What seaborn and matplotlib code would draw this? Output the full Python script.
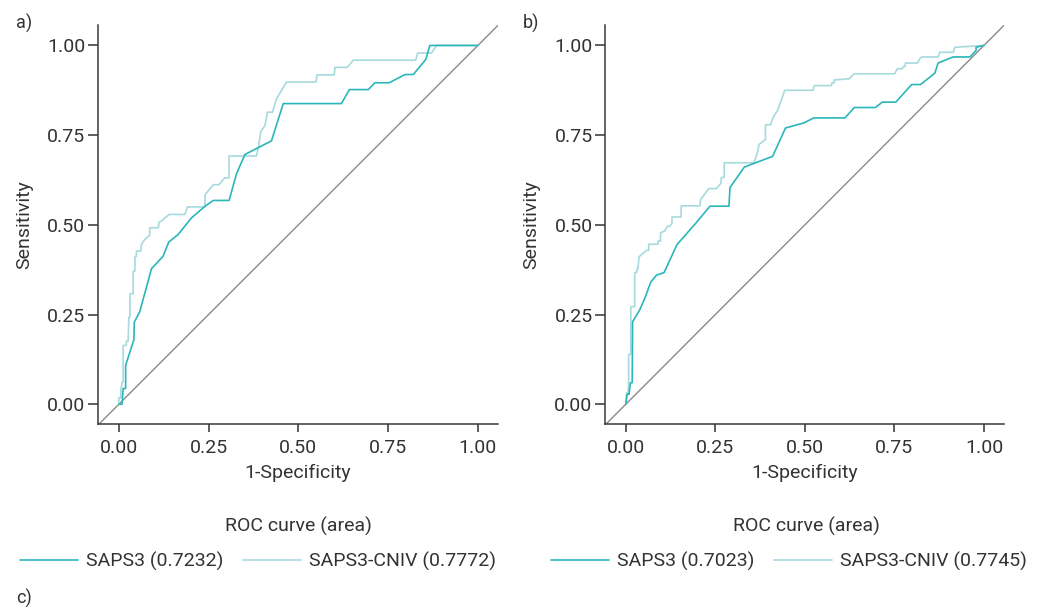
import numpy as np
import pandas as pd
import matplotlib
matplotlib.use("Agg")
import matplotlib.pyplot as plt
from matplotlib.lines import Line2D
import seaborn as sns

# ---------------- data ----------------
# Panel a
a_saps3_fpr = [0.0, 0.009, 0.012, 0.019, 0.019, 0.042, 0.043, 0.058, 0.091, 0.123, 0.139,
               0.165, 0.202, 0.240, 0.263, 0.307, 0.328, 0.351, 0.425, 0.458, 0.620,
               0.642, 0.695, 0.713, 0.753, 0.797, 0.820, 0.855, 0.866, 1.0]
a_saps3_tpr = [0.0, 0.0, 0.044, 0.044, 0.109, 0.180, 0.229, 0.257, 0.378, 0.412, 0.452,
               0.473, 0.519, 0.552, 0.568, 0.568, 0.643, 0.696, 0.734, 0.838, 0.838,
               0.877, 0.877, 0.896, 0.896, 0.919, 0.919, 0.961, 1.0, 1.0]
a_cniv_fpr = [0.0, 0.0, 0.0056, 0.0056, 0.0093, 0.012, 0.012, 0.021, 0.021, 0.026, 0.028,
              0.031, 0.031, 0.040, 0.040, 0.045, 0.045, 0.049, 0.049, 0.061, 0.063,
              0.072, 0.086, 0.086, 0.110, 0.112, 0.119, 0.140, 0.184, 0.191, 0.240,
              0.240, 0.263, 0.279, 0.295, 0.307, 0.307, 0.383, 0.388, 0.395, 0.407,
              0.414, 0.428, 0.439, 0.467, 0.549, 0.552, 0.600, 0.602, 0.636, 0.653,
              0.827, 0.832, 0.871, 0.885, 1.0]
a_cniv_tpr = [0.0, 0.018, 0.018, 0.041, 0.062, 0.062, 0.164, 0.164, 0.176, 0.176, 0.243,
              0.243, 0.308, 0.308, 0.371, 0.371, 0.412, 0.412, 0.427, 0.427, 0.446,
              0.459, 0.471, 0.492, 0.492, 0.508, 0.511, 0.529, 0.529, 0.550, 0.550,
              0.584, 0.612, 0.612, 0.631, 0.631, 0.692, 0.692, 0.712, 0.759, 0.777,
              0.814, 0.814, 0.851, 0.898, 0.898, 0.918, 0.918, 0.939, 0.939, 0.959,
              0.959, 0.979, 0.979, 1.0, 1.0]

# Panel b
b_saps3_fpr = [0.0, 0.004, 0.009, 0.013, 0.018, 0.019, 0.039, 0.053, 0.070, 0.086, 0.107,
               0.143, 0.195, 0.235, 0.288, 0.291, 0.331, 0.410, 0.446, 0.497, 0.525,
               0.612, 0.638, 0.697, 0.716, 0.754, 0.798, 0.823, 0.863, 0.872, 0.914,
               0.961, 0.978, 0.978, 1.0]
b_saps3_tpr = [0.0, 0.028, 0.028, 0.060, 0.060, 0.230, 0.263, 0.295, 0.341, 0.360, 0.367,
               0.445, 0.504, 0.552, 0.552, 0.604, 0.661, 0.691, 0.770, 0.784, 0.798,
               0.798, 0.827, 0.827, 0.842, 0.842, 0.891, 0.891, 0.923, 0.951, 0.968,
               0.968, 0.986, 0.995, 1.0]
b_cniv_fpr = [0.0, 0.002, 0.0065, 0.008, 0.008, 0.014, 0.014, 0.025, 0.025, 0.030, 0.032,
              0.034, 0.037, 0.047, 0.058, 0.064, 0.064, 0.090, 0.090, 0.097, 0.097,
              0.109, 0.116, 0.123, 0.129, 0.129, 0.154, 0.155, 0.207, 0.209, 0.232,
              0.253, 0.265, 0.267, 0.275, 0.275, 0.358, 0.368, 0.372, 0.390, 0.390,
              0.404, 0.412, 0.424, 0.444, 0.523, 0.526, 0.574, 0.576, 0.582, 0.582,
              0.623, 0.638, 0.751, 0.758, 0.772, 0.775, 0.779, 0.781, 0.815, 0.821,
              0.826, 0.872, 0.877, 0.914, 0.919, 1.0]
b_cniv_tpr = [0.0, 0.031, 0.031, 0.060, 0.139, 0.139, 0.272, 0.272, 0.367, 0.367, 0.378,
              0.378, 0.411, 0.420, 0.429, 0.429, 0.446, 0.446, 0.455, 0.455, 0.478,
              0.483, 0.496, 0.496, 0.504, 0.522, 0.522, 0.553, 0.553, 0.571, 0.601,
              0.601, 0.615, 0.632, 0.632, 0.673, 0.673, 0.703, 0.724, 0.738, 0.779,
              0.779, 0.801, 0.819, 0.875, 0.875, 0.888, 0.888, 0.896, 0.896, 0.904,
              0.907, 0.921, 0.921, 0.935, 0.935, 0.941, 0.941, 0.951, 0.951, 0.963,
              0.968, 0.968, 0.981, 0.981, 0.995, 1.0]

panel_labels = ["a)", "b)"]
legend_labels_a = ["SAPS3 (0.7232)", "SAPS3-CNIV (0.7772)"]
legend_labels_b = ["SAPS3 (0.7023)", "SAPS3-CNIV (0.7745)"]
tick_values = [0.0, 0.25, 0.5, 0.75, 1.0]
tick_labels = ["0.00", "0.25", "0.50", "0.75", "1.00"]

# ---------------- style ----------------
sns.set_style("ticks")
plt.rcParams["font.family"] = ["Roboto", "DejaVu Sans"]
TXT = "#333333"
C_DARK = "#2ab6ba"
C_LIGHT = "#a6dadd"
C_DIAG = "#8a8a8a"

fig = plt.figure(figsize=(10.43, 6.13), dpi=100)
W, H = 1043, 613


def px_axes(left, top, right, bottom):
    return fig.add_axes([left / W, 1 - bottom / H, (right - left) / W, (bottom - top) / H])


ax_a = px_axes(98, 25, 498, 424)
ax_b = px_axes(605, 25, 1004, 424)

panels = [
    (ax_a, a_saps3_fpr, a_saps3_tpr, a_cniv_fpr, a_cniv_tpr, legend_labels_a),
    (ax_b, b_saps3_fpr, b_saps3_tpr, b_cniv_fpr, b_cniv_tpr, legend_labels_b),
]

for ax, sf, st, cf, ct, labs in panels:
    df = pd.concat([
        pd.DataFrame({"fpr": sf, "tpr": st, "model": labs[0]}),
        pd.DataFrame({"fpr": cf, "tpr": ct, "model": labs[1]}),
    ], ignore_index=True)
    lo, hi = -0.058, 1.056
    ax.plot([lo, hi], [lo, hi], color=C_DIAG, lw=1.0, zorder=1)
    sns.lineplot(data=df, x="fpr", y="tpr", hue="model",
                 palette={labs[0]: C_DARK, labs[1]: C_LIGHT},
                 hue_order=[labs[1], labs[0]],
                 sort=False, estimator=None, legend=False, lw=1.2, ax=ax, zorder=2)
    ax.set_xlim(lo, hi)
    ax.set_ylim(-0.055, 1.057)
    ax.set_xticks(tick_values)
    ax.set_xticklabels(tick_labels)
    ax.set_yticks(tick_values)
    ax.set_yticklabels(tick_labels)
    ax.set_xlabel("1-Specificity", fontsize=14, color=TXT, labelpad=5)
    ax.set_ylabel("Sensitivity", fontsize=14, color=TXT, labelpad=10)
    ax.tick_params(axis="x", length=6, width=1.1, pad=5, labelsize=14,
                   colors=TXT)
    ax.tick_params(axis="y", length=7, width=1.1, pad=2, labelsize=14,
                   colors=TXT)
    for s in ["top", "right"]:
        ax.spines[s].set_visible(False)
    for s in ["left", "bottom"]:
        ax.spines[s].set_color("#3a3a3a")
        ax.spines[s].set_linewidth(1.1)

# panel letters
fig.text(16 / W, 1 - 23 / H, "a)", fontsize=13, color=TXT, va="center", ha="left")
fig.text(523 / W, 1 - 23 / H, "b)", fontsize=13, color=TXT, va="center", ha="left")
fig.text(16 / W, 1 - 598 / H, "c)", fontsize=13, color=TXT, va="center", ha="left")

# legends
for cx_title, cx_leg, labs in [(298, 258, legend_labels_a), (806, 789, legend_labels_b)]:
    fig.text(cx_title / W, 1 - 526 / H, "ROC curve (area)", fontsize=14, color=TXT,
             ha="center", va="center")
    handles = [Line2D([], [], color=C_DARK, lw=1.2),
               Line2D([], [], color=C_LIGHT, lw=1.2)]
    leg = fig.legend(handles, labs, loc="center", bbox_to_anchor=(cx_leg / W, 1 - 561 / H),
                     ncol=2, frameon=False, fontsize=14, handlelength=3.0,
                     handletextpad=0.4, columnspacing=1.0, borderpad=0, borderaxespad=0)
    for t in leg.get_texts():
        t.set_color(TXT)

fig.savefig("out.png", dpi=100)
